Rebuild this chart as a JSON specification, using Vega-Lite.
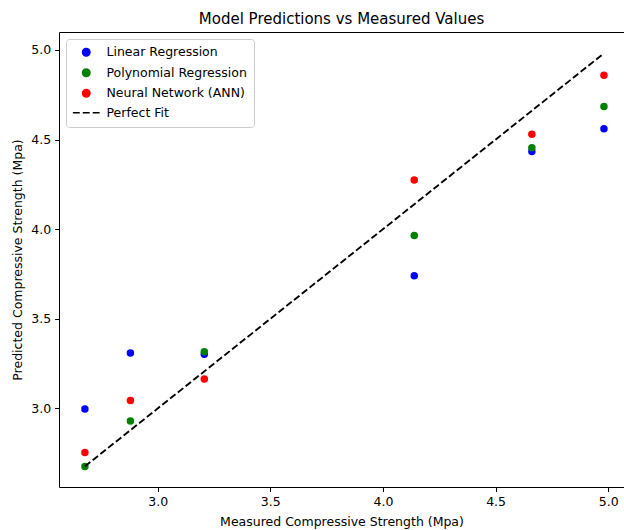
{
  "$schema": "https://vega.github.io/schema/vega-lite/v6.json",
  "width": 565,
  "height": 455,
  "autosize": "none",
  "padding": {"left": 59, "top": 32, "right": 0, "bottom": 43},
  "title": {"text": "Model Predictions vs Measured Values", "fontSize": 15, "font": "DejaVu Sans", "fontWeight": "normal", "color": "#000000", "offset": 5.5, "anchor": "middle"},
  "config": {
    "font": "DejaVu Sans",
    "view": {"stroke": null},
    "axis": {
      "domainColor": "#000000", "domainWidth": 1, "tickColor": "#000000", "tickSize": 4.4, "tickWidth": 1,
      "labelFontSize": 12.5, "labelFont": "DejaVu Sans", "labelColor": "#000000", "labelPadding": 4,
      "titleFontSize": 12.5, "titleFont": "DejaVu Sans", "titleFontWeight": "normal", "titleColor": "#000000",
      "grid": false
    },
    "legend": {
      "orient": "top-left", "offset": 7, "padding": 7, "rowPadding": 6.5,
      "labelFontSize": 12.5, "labelFont": "DejaVu Sans", "labelColor": "#000000",
      "symbolSize": 56, "symbolOffset": 7, "labelOffset": 14,
      "strokeColor": "#cccccc", "fillColor": "rgba(255,255,255,0.8)", "cornerRadius": 3
    }
  },
  "data": {"values": [
    {"x": 2.677, "y": 2.997, "model": "Linear Regression"},
    {"x": 2.879, "y": 3.309, "model": "Linear Regression"},
    {"x": 3.207, "y": 3.303, "model": "Linear Regression"},
    {"x": 4.139, "y": 3.740, "model": "Linear Regression"},
    {"x": 4.661, "y": 4.433, "model": "Linear Regression"},
    {"x": 4.981, "y": 4.560, "model": "Linear Regression"},
    {"x": 2.677, "y": 2.677, "model": "Polynomial Regression"},
    {"x": 2.879, "y": 2.930, "model": "Polynomial Regression"},
    {"x": 3.207, "y": 3.316, "model": "Polynomial Regression"},
    {"x": 4.139, "y": 3.965, "model": "Polynomial Regression"},
    {"x": 4.661, "y": 4.455, "model": "Polynomial Regression"},
    {"x": 4.981, "y": 4.685, "model": "Polynomial Regression"},
    {"x": 2.677, "y": 2.755, "model": "Neural Network (ANN)"},
    {"x": 2.879, "y": 3.045, "model": "Neural Network (ANN)"},
    {"x": 3.207, "y": 3.164, "model": "Neural Network (ANN)"},
    {"x": 4.139, "y": 4.275, "model": "Neural Network (ANN)"},
    {"x": 4.661, "y": 4.530, "model": "Neural Network (ANN)"},
    {"x": 4.981, "y": 4.859, "model": "Neural Network (ANN)"},
    {"x": 2.677, "y": 2.677, "model": "Perfect Fit"},
    {"x": 4.981, "y": 4.981, "model": "Perfect Fit"}
  ]},
  "resolve": {"axis": {"x": "independent"}},
  "layer": [
    {
      "transform": [{"filter": "datum.model !== 'Perfect Fit'"}],
      "mark": {"type": "point", "filled": true, "size": 56, "opacity": 1},
      "encoding": {
        "x": {"field": "x", "type": "quantitative", "scale": {"domain": [2.562, 5.07], "zero": false, "nice": false},
              "axis": {"title": "Measured Compressive Strength (Mpa)", "values": [3, 3.5, 4, 4.5, 5], "format": ".1f", "titlePadding": 8}},
        "y": {"field": "y", "type": "quantitative", "scale": {"domain": [2.562, 5.1], "zero": false, "nice": false},
              "axis": {"title": "Predicted Compressive Strength (Mpa)", "values": [3, 3.5, 4, 4.5, 5], "format": ".1f", "titlePadding": 6}},
        "color": {"field": "model", "type": "nominal",
                  "scale": {"domain": ["Linear Regression", "Polynomial Regression", "Neural Network (ANN)", "Perfect Fit"], "range": ["#0000ff", "#008000", "#ff0000", "#000000"]},
                  "legend": {"title": null, "encode": {"symbols": {"update": {
                    "fill": {"scale": "color", "field": "value"},
                    "stroke": [{"test": "datum.value === 'Perfect Fit'", "value": "#000000"}, {"value": "transparent"}],
                    "strokeWidth": {"value": 1.8},
                    "opacity": {"value": 1}}}}}},
        "shape": {"field": "model", "type": "nominal",
                  "scale": {"domain": ["Linear Regression", "Polynomial Regression", "Neural Network (ANN)", "Perfect Fit"], "range": ["circle", "circle", "circle", "M-3.575,0H-1.725M-0.925,0H0.925M1.725,0H3.575"]},
                  "legend": {"title": null}}
      }
    },
    {
      "transform": [{"filter": "datum.model === 'Perfect Fit'"}],
      "mark": {"type": "line", "strokeDash": [6.9, 3], "strokeWidth": 1.875},
      "encoding": {
        "x": {"field": "x", "type": "quantitative", "axis": {"orient": "top", "labels": false, "ticks": false, "title": null, "domain": true}},
        "y": {"field": "y", "type": "quantitative"},
        "color": {"field": "model", "type": "nominal"}
      }
    }
  ]
}
